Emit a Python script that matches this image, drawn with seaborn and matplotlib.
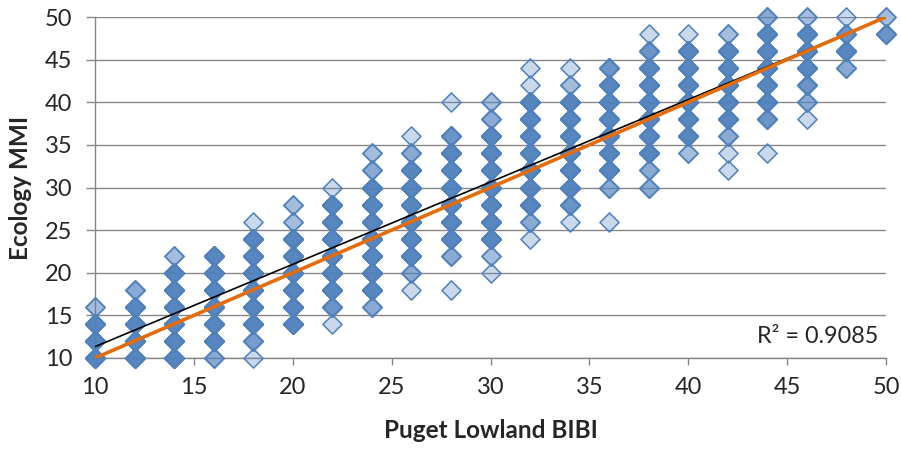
import numpy as np
import pandas as pd
import matplotlib
matplotlib.use("Agg")
import matplotlib.pyplot as plt
import seaborn as sns

# columns of the scatter: x value, lowest y, and how many sites sit at
# y = ymin, ymin+2, ymin+4, ... (0 = empty slot)
col_x = [10, 12, 14, 16, 18, 20, 22, 24, 26, 28, 30, 32, 34, 36, 38, 40, 42, 44, 46, 48, 50]
col_ymin = [10, 10, 10, 10, 10, 14, 14, 16, 18, 18, 20, 24, 26, 26, 30, 34, 32, 34, 38, 44, 48]
col_counts = [
    [8, 8, 8, 2],
    [8, 8, 8, 8, 3],
    [8, 8, 8, 8, 8, 8, 2],
    [3, 8, 8, 8, 8, 8, 8],
    [1, 4, 8, 8, 8, 8, 8, 8, 1],
    [8, 8, 8, 8, 8, 8, 2, 2],
    [1, 5, 8, 8, 8, 8, 8, 8, 1],
    [3, 8, 8, 8, 8, 8, 8, 8, 3, 2],
    [1, 3, 8, 8, 8, 8, 8, 8, 3, 1],
    [1, 0, 3, 8, 8, 8, 8, 8, 8, 5, 0, 1],
    [1, 2, 8, 8, 8, 8, 8, 8, 8, 3, 2],
    [1, 3, 8, 8, 8, 8, 8, 8, 8, 1, 1],
    [1, 5, 8, 8, 8, 8, 8, 8, 2, 1],
    [1, 0, 3, 8, 8, 8, 8, 8, 8, 5],
    [3, 3, 8, 8, 8, 8, 8, 8, 5, 1],
    [2, 8, 8, 8, 8, 8, 8, 1],
    [1, 1, 3, 8, 8, 8, 8, 8, 2],
    [1, 0, 5, 8, 8, 8, 8, 8, 3],
    [1, 3, 5, 8, 8, 8, 2],
    [3, 8, 5, 1],
    [5, 2],
]

# linear trend and its R^2
trend_intercept = 1.67
trend_slope = 0.966
r2_label = "R² = 0.9085"

bibi, mmi = [], []
for x, y0, cnts in zip(col_x, col_ymin, col_counts):
    for k, c in enumerate(cnts):
        bibi += [x] * c
        mmi += [y0 + 2 * k] * c
df = pd.DataFrame({"Puget Lowland BIBI": bibi, "Ecology MMI": mmi})

sns.set_style("white")
plt.rcParams["font.family"] = ["Lato", "DejaVu Sans"]

grey = "#868686"
blue = "#4F81BD"

fig = plt.figure(figsize=(9.01, 4.51), dpi=100)
ax = fig.add_axes([95 / 901, 93 / 451, 791 / 901, 341 / 451])

sns.scatterplot(data=df, x="Puget Lowland BIBI", y="Ecology MMI", marker="D", s=95,
                color=blue, edgecolor=blue, linewidth=1.1, ax=ax, zorder=3, clip_on=False)
ax.collections[0].set_facecolor((79 / 255, 129 / 255, 189 / 255, 0.3))

xs = np.array([10, 50])
ax.plot(xs, trend_intercept + trend_slope * xs, color="black", lw=1.2, zorder=4, solid_capstyle="butt")
ax.plot(xs, xs, color="#E46C0A", lw=2.6, zorder=5, solid_capstyle="butt")

ax.text(49.6, 12.5, r2_label, ha="right", va="center", fontsize=16.8)

ax.set_xlim(10, 50)
ax.set_ylim(10, 50)
ax.set_xticks(range(10, 51, 5))
ax.set_yticks(range(10, 51, 5))
ax.grid(axis="y", color=grey, lw=1.0)
ax.grid(axis="x", visible=False)
ax.set_axisbelow(True)
for s in ["top", "right"]:
    ax.spines[s].set_visible(False)
for s in ["left", "bottom"]:
    ax.spines[s].set_color(grey)
    ax.spines[s].set_linewidth(1.0)
ax.tick_params(axis="x", length=5, width=1, color=grey, pad=9, labelsize=17, bottom=True)
ax.tick_params(axis="y", length=6.5, width=1, color=grey, pad=10, labelsize=17, left=True)

ax.set_xlabel("Puget Lowland BIBI", fontsize=17.5, fontweight="bold")
ax.set_ylabel("Ecology MMI", fontsize=17.5, fontweight="bold")
ax.xaxis.set_label_coords(0.5, -0.18)
ax.yaxis.set_label_coords(-0.08, 0.5)

fig.savefig("out.png", dpi=100)
